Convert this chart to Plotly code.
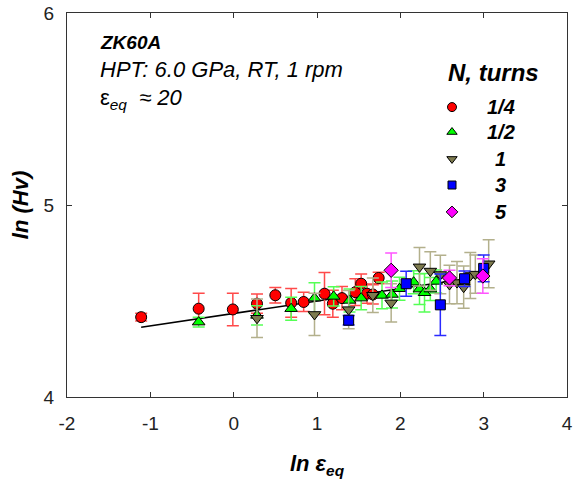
import plotly.graph_objects as go

# ---- data ----
x_q = [-1.11, -0.42, -0.01, 0.28, 0.50, 0.69, 0.84, 1.09, 1.19, 1.30, 1.46, 1.53, 1.60, 1.67, 1.74]
y_q = [4.416, 4.46, 4.456, 4.486, 4.53, 4.49, 4.495, 4.538, 4.486, 4.515, 4.546, 4.59, 4.538, 4.534, 4.62]
e_q = [0.02, 0.08, 0.085, 0.05, 0.04, 0.075, 0.05, 0.11, 0.07, 0.06, 0.07, 0.05, 0.05, 0.05, 0.03]

x_h = [-0.42, 0.28, 0.69, 0.97, 1.20, 1.39, 1.53, 1.78, 1.90, 1.99, 2.16, 2.23, 2.29, 2.36, 2.43]
y_h = [4.39, 4.425, 4.46, 4.515, 4.524, 4.503, 4.515, 4.529, 4.534, 4.564, 4.598, 4.562, 4.543, 4.562, 4.602]
e_h = [0.025, 0.05, 0.06, 0.08, 0.05, 0.06, 0.06, 0.07, 0.07, 0.06, 0.06, 0.08, 0.10, 0.06, 0.06]

x_1 = [0.28, 0.97, 1.38, 1.67, 1.89, 2.23, 2.36, 2.48, 2.59, 2.68, 2.76, 2.84, 2.90, 3.06]
y_1 = [4.41, 4.43, 4.455, 4.53, 4.49, 4.678, 4.656, 4.638, 4.586, 4.596, 4.572, 4.633, 4.64, 4.694]
e_1 = [0.10, 0.11, 0.10, 0.09, 0.10, 0.10, 0.10, 0.10, 0.10, 0.11, 0.11, 0.12, 0.10, 0.125]

x_3 = [1.38, 2.07, 2.48, 2.77, 3.00]
y_3 = [4.40, 4.59, 4.48, 4.616, 4.67]
e_3 = [0.025, 0.065, 0.16, 0.04, 0.07]

x_5 = [1.89, 2.59, 2.99]
y_5 = [4.66, 4.62, 4.63]
e_5 = [0.09, 0.04, 0.09]

fit_x = [-1.11, 3.05]
fit_y = [4.363, 4.633]

series_names = ["1/4", "1/2", "1", "3", "5"]
legend_title = "N, turns"
x_ticks = [-2, -1, 0, 1, 2, 3, 4]
y_ticks = [4, 5, 6]

# ---- layout of the hand-made legend (fractions of the plot area) ----
LEG_KEY_X = 0.77
LEG_TEXT_X = 0.867
LEG_ROW_Y = [0.755, 0.690, 0.620, 0.552, 0.482]
LEG_TITLE_Y = 0.846
LEG_TITLE_X = 0.852

FONT = "Liberation Sans, Arial, sans-serif"

fig = go.Figure()

fig.add_trace(go.Scatter(x=fit_x, y=fit_y, mode="lines",
                         line=dict(color="black", width=1.5), showlegend=False))

specs = [
    ("circle", "#ff0000", "#ff4a4a", 11, 9),
    ("triangle-up", "#00ff00", "#55ff55", 11, 9),
    ("triangle-down", "#7d7a4e", "#b3b08c", 11, 9),
    ("square", "#0000ff", "#2a2aff", 10, 8),
    ("diamond", "#ff00ff", "#ff55ff", 11, 9),
]
series = [(x_q, y_q, e_q), (x_h, y_h, e_h), (x_1, y_1, e_1), (x_3, y_3, e_3), (x_5, y_5, e_5)]
for (xs, ys, es), (sym, col, ecol, sz, lsz), name in zip(series, specs, series_names):
    fig.add_trace(go.Scatter(
        x=xs, y=ys, mode="markers", name=name, showlegend=False,
        error_y=dict(type="data", array=es, visible=True, color=ecol, thickness=1.5, width=6),
        marker=dict(symbol=sym, size=sz, color=col, line=dict(color="black", width=1)),
    ))

# legend keys on an invisible overlay axis
for (sym, col, ecol, sz, lsz), ry in zip(specs, LEG_ROW_Y):
    fig.add_trace(go.Scatter(
        x=[LEG_KEY_X], y=[ry], xaxis="x2", yaxis="y2", mode="markers", showlegend=False,
        hoverinfo="skip",
        marker=dict(symbol=sym, size=lsz, color=col, line=dict(color="black", width=1)),
    ))

fig.update_layout(
    width=574, height=479,
    margin=dict(l=67, r=7, t=13, b=82, autoexpand=False),
    paper_bgcolor="white", plot_bgcolor="white",
    font=dict(family=FONT, size=19, color="black"),
    showlegend=False,
    xaxis2=dict(overlaying="x", range=[0, 1], visible=False, fixedrange=True),
    yaxis2=dict(overlaying="y", range=[0, 1], visible=False, fixedrange=True),
    xaxis=dict(range=[-2, 4], tickvals=x_ticks, ticktext=[str(v) for v in x_ticks],
               showgrid=False, zeroline=False, automargin=False,
               showline=True, linecolor="#333333", linewidth=1, mirror="ticks",
               ticks="inside", ticklen=5, tickcolor="#333333", ticklabelstandoff=9,
               tickfont=dict(size=19, color="#222222"),
               title=dict(text="<b><i>ln ε<sub>eq</sub></i></b>", font=dict(size=22), standoff=28)),
    yaxis=dict(range=[4, 6], tickvals=y_ticks, ticktext=[str(v) for v in y_ticks],
               showgrid=False, zeroline=False, automargin=False,
               showline=True, linecolor="#333333", linewidth=1, mirror="ticks",
               ticks="inside", ticklen=5, tickcolor="#333333", ticklabelstandoff=8,
               tickfont=dict(size=19, color="#222222"),
               title=dict(text="<b><i>ln (Hv)</i></b>", font=dict(size=22), standoff=8)),
)

fig.add_annotation(xref="paper", yref="paper", x=0.062, y=0.922, xanchor="left", yanchor="middle",
                   text="<b><i>ZK60A</i></b>", showarrow=False, font=dict(size=19))
fig.add_annotation(xref="paper", yref="paper", x=0.062, y=0.852, xanchor="left", yanchor="middle",
                   text="<i>HPT: 6.0 GPa, RT, 1 rpm</i>", showarrow=False, font=dict(size=22))
fig.add_annotation(xref="paper", yref="paper", x=0.062, y=0.777, xanchor="left", yanchor="middle",
                   text="ε<sub><i>eq</i></sub>  <i>≈ 20</i>", showarrow=False, font=dict(size=22))

# legend title and labels
fig.add_annotation(xref="paper", yref="paper", x=LEG_TITLE_X, y=LEG_TITLE_Y, xanchor="center",
                   yanchor="middle", text="<b><i>" + legend_title + "</i></b>", showarrow=False,
                   font=dict(size=24))
for name, ry in zip(series_names, LEG_ROW_Y):
    fig.add_annotation(xref="paper", yref="paper", x=LEG_TEXT_X, y=ry, xanchor="center",
                       yanchor="middle", text="<b><i>" + name + "</i></b>", showarrow=False,
                       font=dict(size=20))

fig.write_html("out.html")
